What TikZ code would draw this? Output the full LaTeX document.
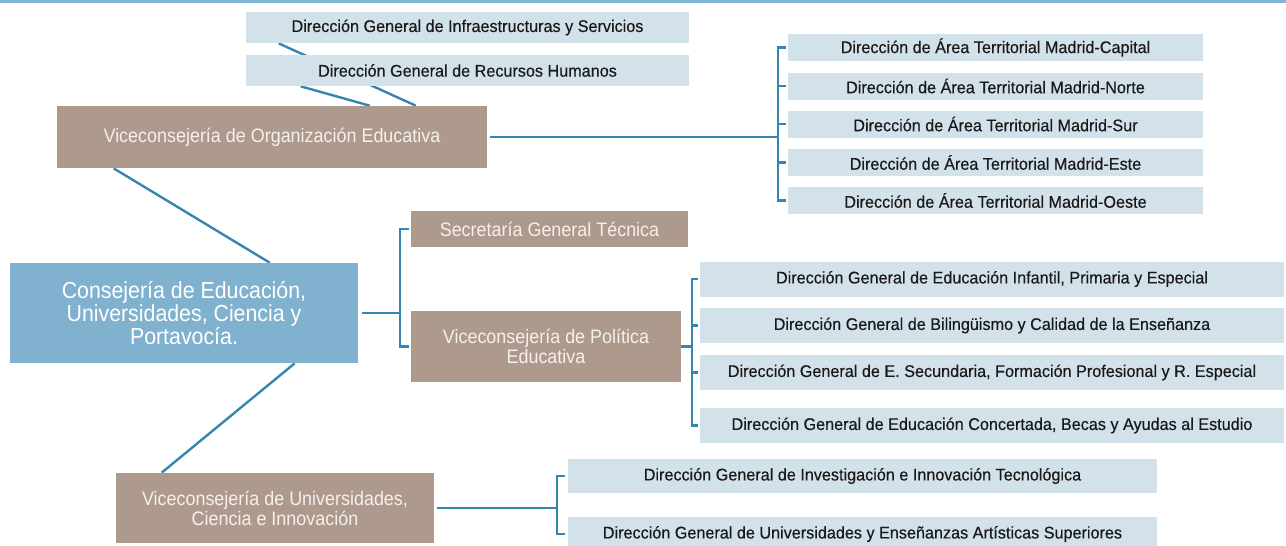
\documentclass[tikz,border=0pt]{standalone}
\usepackage{fontspec}
\setmainfont{Liberation Sans}[FakeStretch=0.92]
\newfontfamily\lbfont{Liberation Sans}[FakeStretch=0.96,FakeBold=0.35]
\usetikzlibrary{calc}
\pgfdeclarelayer{bg}
\pgfsetlayers{bg,main}
\definecolor{linec}{RGB}{52,133,175}
\definecolor{topband}{RGB}{128,180,212}
\definecolor{consc}{RGB}{128,177,206}
\definecolor{brownc}{RGB}{174,154,141}
\definecolor{paleb}{RGB}{211,225,235}
\definecolor{darktxt}{RGB}{25,25,25}
\definecolor{lighttxt}{RGB}{244,240,236}
\begin{document}
\begin{tikzpicture}[x=0.02cm,y=-0.02cm,
  pale/.style={fill=paleb, draw=none, inner sep=0pt, text=darktxt,
    font=\lbfont\fontsize{9.6}{10}\selectfont, align=center},
  brownbox/.style={fill=brownc, draw=none, inner sep=0pt, text=lighttxt,
    font=\fontsize{11.1}{11.4}\selectfont, align=center},
  consbox/.style={fill=consc, draw=none, inner sep=0pt, text=white,
    font=\fontsize{13.2}{13.3}\selectfont, align=center},
  conn/.style={draw=linec, line width=1.35pt},
]
\useasboundingbox (0,0) rectangle (1286,545);
\begin{pgfonlayer}{bg}
\fill[white] (0,0) rectangle (1286,545);
\end{pgfonlayer}
\fill[topband] (0,0) rectangle (1286,2.5);

% top-left group
\node[pale, minimum width=8.86cm, minimum height=0.62cm] (infra) at (467.5,27.5) {Dirección General de Infraestructuras y Servicios};
\node[pale, minimum width=8.86cm, minimum height=0.62cm] (rrhh) at (467.5,70.5) {Dirección General de Recursos Humanos};
\node[brownbox, minimum width=8.6cm, minimum height=1.24cm] (voe) at (272,137) {Viceconsejería de Organización Educativa};

% territorial areas
\node[pale, minimum width=8.3cm, minimum height=0.54cm] (dat1) at (995.5,47.5) {Dirección de Área Territorial Madrid-Capital};
\node[pale, minimum width=8.3cm, minimum height=0.54cm] (dat2) at (995.5,86) {Dirección de Área Territorial Madrid-Norte};
\node[pale, minimum width=8.3cm, minimum height=0.54cm] (dat3) at (995.5,124) {Dirección de Área Territorial Madrid-Sur};
\node[pale, minimum width=8.3cm, minimum height=0.54cm] (dat4) at (995.5,162.5) {Dirección de Área Territorial Madrid-Este};
\node[pale, minimum width=8.3cm, minimum height=0.54cm] (dat5) at (995.5,200.5) {Dirección de Área Territorial Madrid-Oeste};

% main
\node[consbox, minimum width=6.96cm, minimum height=2.0cm] (cons) at (184,313) {Consejería de Educación,\\Universidades, Ciencia y\\Portavocía.};

\node[brownbox, minimum width=5.54cm, minimum height=0.72cm] (sgt) at (549.5,229) {Secretaría General Técnica};
\node[brownbox, minimum width=5.4cm, minimum height=1.42cm] (vpe) at (546,346.5) {Viceconsejería de Política\\Educativa};

\node[pale, minimum width=11.68cm, minimum height=0.7cm] (dg1) at (992,279) {Dirección General de Educación Infantil, Primaria y Especial};
\node[pale, minimum width=11.68cm, minimum height=0.7cm] (dg2) at (992,325.5) {Dirección General de Bilingüismo y Calidad de la Enseñanza};
\node[pale, minimum width=11.68cm, minimum height=0.7cm] (dg3) at (992,372.5) {Dirección General de E. Secundaria, Formación Profesional y R. Especial};
\node[pale, minimum width=11.68cm, minimum height=0.7cm] (dg4) at (992,425.5) {Dirección General de Educación Concertada, Becas y Ayudas al Estudio};

\node[brownbox, minimum width=6.36cm, minimum height=1.4cm] (vu) at (275,508) {Viceconsejería de Universidades,\\Ciencia e Innovación};
\node[pale, minimum width=11.78cm, minimum height=0.68cm] (inv) at (862.5,476) {Dirección General de Investigación e Innovación Tecnológica};
\node[pale, minimum width=11.78cm, minimum height=0.68cm] (uni) at (862.5,534) {Dirección General de Universidades y Enseñanzas Artísticas Superiores};

% diagonal connectors (behind boxes)
\begin{pgfonlayer}{bg}
\draw[conn] ($(infra.south west)+(33,0)$) -- ($(voe.north west)+(359,0)$);
\draw[conn] ($(rrhh.south west)+(55,0)$) -- ($(voe.north west)+(313,0)$);
\draw[conn] ($(voe.south west)+(57,0)$) -- ($(cons.north west)+(260,0)$);
\draw[conn] ($(cons.south west)+(285,0)$) -- ($(vu.north west)+(46,0)$);
\end{pgfonlayer}

% bracket A: territorial areas
\coordinate (bA) at (778,137);
\draw[conn, shorten <=0.06cm] (voe.east) -- (bA);
\draw[conn] ([xshift=-0.04cm]dat1.west) -| (bA) |- ([xshift=-0.04cm]dat5.west);
\foreach \n in {dat2,dat3,dat4} \draw[conn] (\n.west -| bA) -- ([xshift=-0.04cm]\n.west);

% bracket B: consejeria
\coordinate (bB) at (400,313);
\draw[conn, shorten <=0.08cm] (cons.east) -- (bB);
\draw[conn] ([xshift=-0.04cm]sgt.west) -| (bB) |- ([xshift=-0.04cm]vpe.west);

% bracket C: politica educativa
\coordinate (bC) at (692,346.5);
\draw[conn] (vpe.east) -- (bC);
\draw[conn] ([xshift=-0.04cm]dg1.west) -| (bC) |- ([xshift=-0.04cm]dg4.west);
\foreach \n in {dg2,dg3} \draw[conn] (\n.west -| bC) -- ([xshift=-0.04cm]\n.west);

% bracket D: universidades
\coordinate (bD) at (557,508);
\draw[conn, shorten <=0.06cm] (vu.east) -- (bD);
\draw[conn] ([xshift=-0.06cm]inv.west) -| (bD) |- ([xshift=-0.06cm]uni.west);
\end{tikzpicture}
\end{document}
